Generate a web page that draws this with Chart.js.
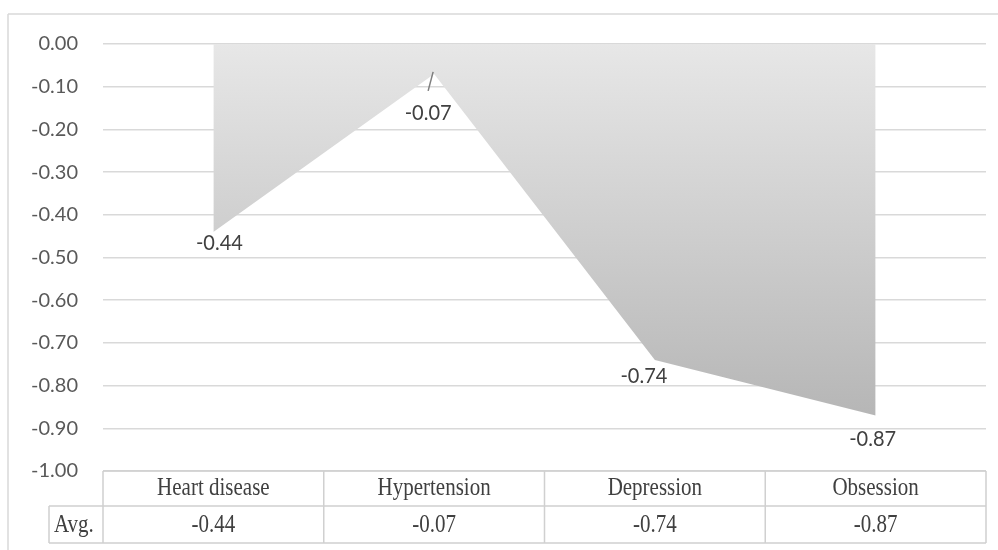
<!DOCTYPE html>
<html>
<head>
<meta charset="utf-8">
<script src="https://cdn.jsdelivr.net/npm/chart.js@4.4.1/dist/chart.umd.min.js"></script>
<style>
  html, body { margin: 0; padding: 0; background: #fff; }
  #wrap { width: 998px; height: 550px; }
</style>
</head>
<body>
<div id="wrap"><canvas id="avgChart" width="998" height="550"></canvas></div>
<script>
const categories = ['Heart disease', 'Hypertension', 'Depression', 'Obsession'];
const avgValues = [-0.44, -0.07, -0.74, -0.87];
const rowLabel = 'Avg.';

// label nudges in px (dx, dy) from each point
const labelShift = [[6, 11], [-6, 39], [-11, 16], [-3, 24]];

const gridColor = '#d9d9d9';
const tableLine = '#d0d0d0';

// text drawn a little taller than the font's natural shape
function tallText(ctx, text, x, y, sy) {
    ctx.save();
    ctx.translate(x, y);
    ctx.scale(1, sy);
    ctx.fillText(text, 0, 0);
    ctx.restore();
}

// outer frame (only top and left edges fall inside the canvas)
const framePlugin = {
    id: 'frame',
    beforeDraw(chart) {
        const ctx = chart.ctx;
        ctx.save();
        ctx.strokeStyle = gridColor;
        ctx.lineWidth = 1.5;
        ctx.beginPath();
        ctx.moveTo(8, 14);
        ctx.lineTo(chart.width, 14);
        ctx.moveTo(8, 14);
        ctx.lineTo(8, chart.height);
        ctx.stroke();
        ctx.restore();
    }
};

// value labels under each point
const valueLabels = {
    id: 'valueLabels',
    afterDatasetsDraw(chart) {
        const ctx = chart.ctx;
        const pts = chart.getDatasetMeta(0).data;
        ctx.save();
        ctx.font = '20px Lato';
        ctx.fillStyle = '#404040';
        ctx.textAlign = 'center';
        ctx.textBaseline = 'middle';
        pts.forEach((p, i) => {
            const [dx, dy] = labelShift[i];
            if (dy > 30) {
                // leader line for the label pushed further down
                ctx.strokeStyle = '#7f7f7f';
                ctx.lineWidth = 1.5;
                ctx.beginPath();
                ctx.moveTo(p.x - 1, p.y - 2);
                ctx.lineTo(p.x - 6, p.y + 17);
                ctx.stroke();
            }
            tallText(ctx, avgValues[i].toFixed(2), p.x + dx, p.y + dy, 1.08);
        });
        ctx.restore();
    }
};

// data table under the plot
const dataTable = {
    id: 'dataTable',
    afterDraw(chart) {
        const ctx = chart.ctx;
        const x = chart.scales.x;
        const area = chart.chartArea;
        const step = x.getPixelForValue(1) - x.getPixelForValue(0);
        const top = area.bottom;
        const mid = top + 35;
        const bot = mid + 37;
        const avgLeft = 49;

        ctx.save();
        ctx.strokeStyle = tableLine;
        ctx.lineWidth = 1.5;
        ctx.beginPath();
        ctx.moveTo(area.left, top);
        ctx.lineTo(area.right, top);
        ctx.moveTo(avgLeft, mid);
        ctx.lineTo(area.right, mid);
        ctx.moveTo(avgLeft, bot);
        ctx.lineTo(area.right, bot);
        ctx.moveTo(avgLeft, mid);
        ctx.lineTo(avgLeft, bot);
        for (let i = 0; i <= categories.length; i++) {
            const cx = area.left + i * step;
            ctx.moveTo(cx, top);
            ctx.lineTo(cx, bot);
        }
        ctx.stroke();

        ctx.font = '21px "Liberation Serif"';
        ctx.fillStyle = '#404040';
        ctx.textBaseline = 'middle';
        ctx.textAlign = 'left';
        tallText(ctx, rowLabel, avgLeft + 5, (mid + bot) / 2 + 1, 1.2);
        ctx.textAlign = 'center';
        categories.forEach((c, i) => {
            const cx = x.getPixelForValue(i);
            tallText(ctx, c, cx, (top + mid) / 2, 1.2);
            tallText(ctx, avgValues[i].toFixed(2), cx, (mid + bot) / 2 + 1, 1.2);
        });
        ctx.restore();
    }
};

const ctx = document.getElementById('avgChart').getContext('2d');
const avgChart = new Chart(ctx, {
    type: 'line',
    data: {
        labels: categories,
        datasets: [{
            label: rowLabel,
            data: avgValues,
            fill: 'origin',
            tension: 0,
            borderWidth: 0,
            borderColor: 'rgba(0,0,0,0)',
            pointRadius: 0,
            backgroundColor(c) {
                const chart = c.chart;
                if (!chart.chartArea) return '#d0d0d0';
                const y = chart.scales.y;
                const g = chart.ctx.createLinearGradient(0, y.getPixelForValue(0), 0, y.getPixelForValue(Math.min(...avgValues)));
                g.addColorStop(0, '#e7e7e7');
                g.addColorStop(1, '#b6b6b6');
                return g;
            }
        }]
    },
    options: {
        responsive: false,
        animation: false,
        layout: { padding: { top: 44, bottom: 79, right: 12, left: 0 } },
        plugins: {
            legend: { display: false },
            tooltip: { enabled: false }
        },
        scales: {
            x: {
                display: false,
                offset: true
            },
            y: {
                min: -1,
                max: 0,
                afterFit(scale) { scale.width = 103; },
                border: { display: false },
                grid: { color: gridColor, lineWidth: 1.5, drawTicks: false },
                ticks: {
                    stepSize: 0.1,
                    padding: 25,
                    color: '#595959',
                    font: { family: 'Lato', size: 20 },
                    callback: v => v.toFixed(2)
                }
            }
        }
    },
    plugins: [framePlugin, valueLabels, dataTable]
});
</script>
</body>
</html>
